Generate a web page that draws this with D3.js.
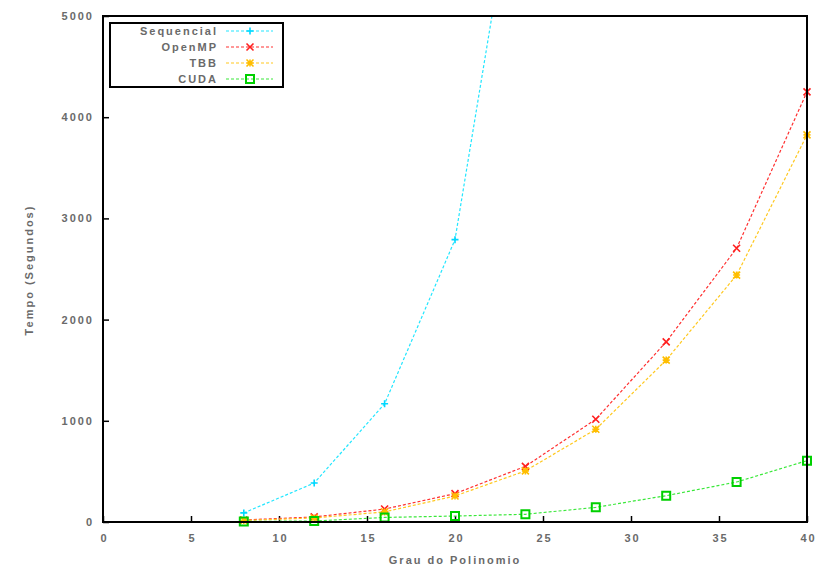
<!DOCTYPE html>
<html>
<head>
<meta charset="utf-8">
<script src="https://cdn.jsdelivr.net/npm/d3@7"></script>
<style>
  html, body { margin: 0; padding: 0; background: #fff; }
  svg { display: block; }
  text {
    font-family: "Liberation Sans", Arial, sans-serif;
    font-weight: bold;
    letter-spacing: 2px;
  }
</style>
</head>
<body>
<svg id="chart" width="825" height="566"></svg>
<script>
// Polynomial degree for each measurement
const graus = [8, 12, 16, 20, 24, 28, 32, 36, 40];
const grausSequencial = [8, 12, 16, 20, 24];

// Execution time in seconds
const sequencial = [90, 385, 1168, 2790, 7000];
const openmp = [20, 50, 128, 280, 550, 1015, 1780, 2705, 4250];
const tbb = [15, 40, 100, 257, 505, 916, 1600, 2440, 3825];
const cuda = [5, 10, 45, 59, 76, 145, 260, 395, 606];

const xTicks = [0, 5, 10, 15, 20, 25, 30, 35, 40];
const yTicks = [0, 1000, 2000, 3000, 4000, 5000];

const seriesNames = ["Sequencial", "OpenMP", "TBB", "CUDA"];
const seriesColors = ["#22e6ff", "#ff3030", "#ffc81e", "#3ae83a"];
const markerColors = ["#00d8ff", "#ff2020", "#ffbe00", "#00d000"];
const seriesSymbols = ["plus", "cross", "star", "square"];

const textColor = "#6a6a6a";

const svg = d3.select("#chart");
const W = 825, H = 566;
const m = { left: 103, right: 18, top: 16, bottom: 44 };
const iw = W - m.left - m.right, ih = H - m.top - m.bottom;

const x = d3.scaleLinear().domain([0, 40]).range([0, iw]);
const y = d3.scaleLinear().domain([0, 5000]).range([ih, 0]);

const g = svg.append("g").attr("transform", `translate(${m.left},${m.top})`);

svg.append("defs").append("clipPath").attr("id", "plot-clip")
  .append("rect").attr("x", 0).attr("y", 0).attr("width", iw).attr("height", ih);

// Axes with inward ticks
const xAxis = d3.axisBottom(x).tickValues(xTicks).tickSize(-6).tickPadding(12).tickFormat(d3.format("d"));
const yAxis = d3.axisLeft(y).tickValues(yTicks).tickSize(-6).tickPadding(9).tickFormat(d3.format("d"));

const gx = g.append("g").attr("transform", `translate(0,${ih})`).call(xAxis);
const gy = g.append("g").call(yAxis);
[gx, gy].forEach(a => {
  a.select(".domain").remove();
  a.selectAll(".tick line").attr("stroke", "#000").attr("stroke-width", 1.5);
  a.selectAll(".tick text").attr("font-size", 11).attr("fill", textColor)
    .style("font-family", "'Liberation Sans', Arial, sans-serif");
});
gx.selectAll(".tick text").attr("dx", 1);

// Marker shapes drawn as paths centred on the data point
const symbolPath = (type, s) => {
  if (type === "plus") return `M${-s},0H${s}M0,${-s}V${s}`;
  if (type === "cross") return `M${-s},${-s}L${s},${s}M${-s},${s}L${s},${-s}`;
  if (type === "star") return `M${-s},0H${s}M0,${-s}V${s}M${-s},${-s}L${s},${s}M${-s},${s}L${s},${-s}`;
  return `M${-s},${-s}H${s}V${s}H${-s}Z`;
};
const symbolSize = t => (t === "square" ? 4 : 3.5);

const allSeries = [
  { xs: grausSequencial, ys: sequencial },
  { xs: graus, ys: openmp },
  { xs: graus, ys: tbb },
  { xs: graus, ys: cuda }
];

const plot = g.append("g").attr("clip-path", "url(#plot-clip)");
const line = d3.line().x(d => x(d[0])).y(d => y(d[1]));

allSeries.forEach((s, i) => {
  const pts = s.xs.map((v, k) => [v, s.ys[k]]);
  plot.append("path").datum(pts)
    .attr("d", line).attr("fill", "none")
    .attr("stroke", seriesColors[i]).attr("stroke-width", 1.2)
    .attr("stroke-dasharray", "3,2");
});

allSeries.forEach((s, i) => {
  const pts = s.xs.map((v, k) => [v, s.ys[k]]).filter(p => p[1] <= 5000);
  g.append("g").selectAll("path").data(pts).join("path")
    .attr("transform", d => `translate(${x(d[0])},${y(d[1])})`)
    .attr("d", symbolPath(seriesSymbols[i], symbolSize(seriesSymbols[i])))
    .attr("fill", "none")
    .attr("stroke", markerColors[i])
    .attr("stroke-width", seriesSymbols[i] === "square" ? 2 : 1.6);
});

// Plot border
g.append("rect").attr("x", 0).attr("y", 0).attr("width", iw).attr("height", ih)
  .attr("fill", "none").attr("stroke", "#000").attr("stroke-width", 2);

// Axis titles
svg.append("text").attr("x", m.left + iw / 2).attr("y", 564)
  .attr("text-anchor", "middle").attr("font-size", 11).attr("fill", textColor)
  .text("Grau do Polinomio");
svg.append("text")
  .attr("transform", `translate(33,270) rotate(-90)`)
  .attr("text-anchor", "middle").attr("font-size", 11).attr("fill", textColor)
  .text("Tempo (Segundos)");

// Legend
const leg = svg.append("g").attr("transform", "translate(110,23)");
leg.append("rect").attr("x", 0).attr("y", 0).attr("width", 173).attr("height", 64)
  .attr("fill", "#fff").attr("stroke", "#000").attr("stroke-width", 2);
seriesNames.forEach((name, i) => {
  const yy = 8 + i * 16;
  leg.append("text").attr("x", 108).attr("y", yy + 4).attr("text-anchor", "end")
    .attr("font-size", 11).attr("fill", textColor).text(name);
  leg.append("line").attr("x1", 116).attr("x2", 163).attr("y1", yy).attr("y2", yy)
    .attr("stroke", seriesColors[i]).attr("stroke-width", 1.2).attr("stroke-dasharray", "3,2");
  leg.append("path").attr("transform", `translate(140,${yy})`)
    .attr("d", symbolPath(seriesSymbols[i], symbolSize(seriesSymbols[i]))).attr("fill", "none")
    .attr("stroke", markerColors[i]).attr("stroke-width", seriesSymbols[i] === "square" ? 2 : 1.6);
});
</script>
</body>
</html>
